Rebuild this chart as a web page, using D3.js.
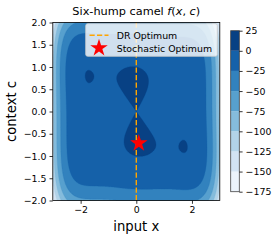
<!DOCTYPE html>
<html>
<head>
<meta charset="utf-8">
<script src="https://cdn.jsdelivr.net/npm/d3@7"></script>
<style>
  body { margin: 0; background: #fff; }
  text { font-family: "DejaVu Sans", sans-serif; fill: #000; }
</style>
</head>
<body>
<svg></svg>
<script>
const WIDTH = 278, HEIGHT = 240;
const PLOT = { left: 52.8, right: 219.8, top: 22.5, bottom: 200.5 };
const CBAR = { left: 230.7, right: 239.3, top: 30.7, bottom: 191.7 };

// chart data
const xDomain = [-3, 3], cDomain = [-2, 2];
const xTicks = [-2, 0, 2];
const cTicks = [-2, -1.5, -1, -0.5, 0, 0.5, 1, 1.5, 2];
const levels = [-175, -150, -125, -100, -75, -50, -25, 0, 25];
const drOptimum = [0.0];
const stochasticOptimum = [0.0898, -0.7126];
const bluesStops = ["#f7fbff", "#deebf7", "#c6dbef", "#9ecae1", "#6baed6", "#4292c6", "#2171b5", "#08519c", "#08306b"];

// six-hump camel, negated (the plotted surface)
function camel(x, c) {
    return -((4 - 2.1 * x * x + Math.pow(x, 4) / 3) * x * x + x * c + (-4 + 4 * c * c) * c * c);
}

const NX = 300, NY = 200;
var grid = [];
for (var j = 0; j < NY; ++j)
    for (var i = 0; i < NX; ++i)
        grid.push(camel(xDomain[0] + (i + 0.5) * 6 / NX, cDomain[0] + (j + 0.5) * 4 / NY));

var blues = d3.scaleLinear().domain(d3.range(9).map(function(k) { return k / 8 })).range(bluesStops);
function bandColor(k) { return blues((k + 0.5) / (levels.length - 1)); }

var x = d3.scaleLinear().domain(xDomain).range([PLOT.left, PLOT.right]);
var y = d3.scaleLinear().domain(cDomain).range([PLOT.bottom, PLOT.top]);

var svg = d3.select("svg").attr("width", WIDTH).attr("height", HEIGHT);

svg.append("clipPath").attr("id", "clip").append("rect")
    .attr("x", PLOT.left).attr("y", PLOT.top)
    .attr("width", PLOT.right - PLOT.left).attr("height", PLOT.bottom - PLOT.top);

var proj = d3.geoTransform({
    point: function(u, v) { this.stream.point(x(xDomain[0] + u * 6 / NX), y(cDomain[0] + v * 4 / NY)); }
});
var path = d3.geoPath(proj);

var bands = d3.contours().size([NX, NY]).thresholds(levels.slice(0, -1))(grid);
svg.append("g").attr("clip-path", "url(#clip)")
  .selectAll("path").data(bands).enter().append("path")
    .attr("d", path)
    .attr("fill", function(d, i) { return bandColor(i) })
    .attr("stroke", function(d, i) { return bandColor(i) })
    .attr("stroke-width", 0.3);

// DR optimum line
svg.selectAll(".dr").data(drOptimum).enter().append("line")
    .attr("class", "dr")
    .attr("x1", function(d) { return x(d) }).attr("x2", function(d) { return x(d) })
    .attr("y1", PLOT.top).attr("y2", PLOT.bottom)
    .attr("stroke", "orange").attr("stroke-width", 1.4)
    .attr("stroke-dasharray", "5.2,2.3");

var star = d3.symbol().type(d3.symbolStar).size(95);
svg.append("path")
    .attr("d", star())
    .attr("transform", "translate(" + x(stochasticOptimum[0]) + "," + y(stochasticOptimum[1]) + ")")
    .attr("fill", "red");

// axes
var xAxis = svg.append("g").attr("transform", "translate(0," + PLOT.bottom + ")")
    .call(d3.axisBottom(x).tickValues(xTicks).tickFormat(d3.format("d")).tickSize(3.3).tickPadding(3));
var yAxis = svg.append("g").attr("transform", "translate(" + PLOT.left + ",0)")
    .call(d3.axisLeft(y).tickValues(cTicks).tickFormat(d3.format(".1f")).tickSize(3.3).tickPadding(3));
[xAxis, yAxis].forEach(function(a) {
    a.select(".domain").remove();
    a.selectAll("line").attr("stroke", "#000").attr("stroke-width", 0.8);
    a.selectAll("text").style("font-size", "9.4px").style("font-family", "DejaVu Sans");
});
svg.append("rect")
    .attr("x", PLOT.left).attr("y", PLOT.top)
    .attr("width", PLOT.right - PLOT.left).attr("height", PLOT.bottom - PLOT.top)
    .attr("fill", "none").attr("stroke", "#000").attr("stroke-width", 0.8);

// title and labels
var title = svg.append("text")
    .attr("x", (PLOT.left + PLOT.right) / 2).attr("y", 15)
    .attr("text-anchor", "middle").style("font-size", "11.3px");
title.append("tspan").text("Six-hump camel ");
title.append("tspan").style("font-style", "italic").text("f");
title.append("tspan").text("(");
title.append("tspan").style("font-style", "italic").text("x");
title.append("tspan").text(", ");
title.append("tspan").style("font-style", "italic").text("c");
title.append("tspan").text(")");

svg.append("text")
    .attr("x", (PLOT.left + PLOT.right) / 2).attr("y", 231)
    .attr("text-anchor", "middle").style("font-size", "13.2px")
    .text("input x");
svg.append("text")
    .attr("transform", "translate(16," + (PLOT.top + PLOT.bottom) / 2 + ") rotate(-90)")
    .attr("text-anchor", "middle").style("font-size", "13.2px")
    .text("context c");

// legend
var lg = svg.append("g");
lg.append("rect")
    .attr("x", 85.7).attr("y", 23.7).attr("width", 131.6).attr("height", 32.6).attr("rx", 2)
    .attr("fill", "#fff").attr("fill-opacity", 0.8)
    .attr("stroke", "#ccc").attr("stroke-width", 0.8);
lg.append("line")
    .attr("x1", 89.5).attr("x2", 108.5).attr("y1", 35.3).attr("y2", 35.3)
    .attr("stroke", "orange").attr("stroke-width", 1.4).attr("stroke-dasharray", "5.2,2.3");
lg.append("path")
    .attr("d", star())
    .attr("transform", "translate(99,48)")
    .attr("fill", "red");
lg.append("text").attr("x", 116.7).attr("y", 38.7).style("font-size", "9.4px").text("DR Optimum");
lg.append("text").attr("x", 116.7).attr("y", 51.5).style("font-size", "9.4px").text("Stochastic Optimum");

// colorbar
var cy = d3.scaleLinear().domain([levels[0], levels[levels.length - 1]]).range([CBAR.bottom, CBAR.top]);
svg.append("g").selectAll("rect").data(levels.slice(0, -1)).enter().append("rect")
    .attr("x", CBAR.left).attr("width", CBAR.right - CBAR.left)
    .attr("y", function(d, i) { return cy(levels[i + 1]) })
    .attr("height", function(d, i) { return cy(levels[i]) - cy(levels[i + 1]) })
    .attr("fill", function(d, i) { return bandColor(i) });
svg.append("rect")
    .attr("x", CBAR.left).attr("y", CBAR.top)
    .attr("width", CBAR.right - CBAR.left).attr("height", CBAR.bottom - CBAR.top)
    .attr("fill", "none").attr("stroke", "#444").attr("stroke-width", 0.8);
var cAxis = svg.append("g").attr("transform", "translate(" + CBAR.right + ",0)")
    .call(d3.axisRight(cy).tickValues(levels).tickSize(3.3).tickPadding(3));
cAxis.select(".domain").remove();
cAxis.selectAll("line").attr("stroke", "#000").attr("stroke-width", 0.8);
cAxis.selectAll("text").style("font-size", "9.4px").style("font-family", "DejaVu Sans");
</script>
</body>
</html>
